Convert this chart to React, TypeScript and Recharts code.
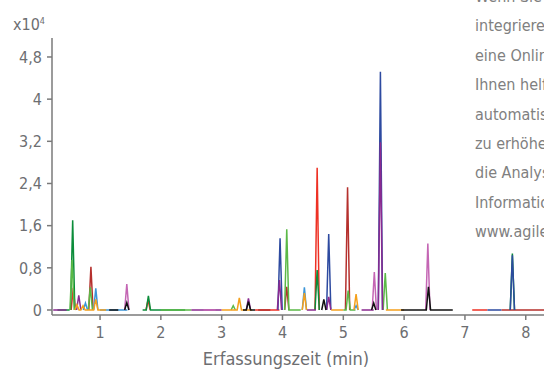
import { LineChart, Line, XAxis, YAxis } from "recharts";

// peak apex [time (min), height (x10^4)] and baseline spans [from, to] per trace
const navyPeaks = [[3.96, 1.36], [4.76, 1.44], [5.61, 4.52], [7.78, 1.04]];
const navySpans = [[7.37, 7.6]];
const purplePeaks = [[0.65, 0.28], [3.44, 0.22], [3.95, 0.57], [4.76, 0.25], [5.61, 3.18]];
const purpleSpans = [[0.23, 0.45], [2.5, 3.0], [4.4, 4.55], [5.3, 5.5]];
const lightGreenPeaks = [[0.54, 0.95], [0.84, 0.43], [3.19, 0.08], [4.07, 1.53], [5.08, 0.37], [5.69, 0.7]];
const lightGreenSpans = [[2.0, 2.5], [4.1, 4.3], [5.0, 5.2]];
const darkGreenPeaks = [[0.55, 1.7], [1.795, 0.27], [4.57, 0.76], [7.78, 1.07]];
const darkGreenSpans = [[0.3, 0.5], [1.7, 2.4]];
const redPeaks = [[0.56, 0.42], [1.79, 0.19], [4.57, 2.7]];
const redSpans = [[3.55, 3.95], [7.12, 7.37]];
const darkRedPeaks = [[0.85, 0.82], [4.07, 0.44], [5.07, 2.33]];
const darkRedSpans = [[3.6, 3.8], [7.6, 8.3]];
const lightBluePeaks = [[0.76, 0.13], [0.93, 0.41], [4.36, 0.43], [5.21, 0.08]];
const lightBlueSpans = [[1.0, 1.45]];
const orangePeaks = [[0.62, 0.1], [0.72, 0.08], [0.93, 0.2], [3.29, 0.23], [4.36, 0.32], [5.21, 0.3]];
const orangeSpans = [[0.6, 1.1], [3.0, 3.5], [4.8, 5.0], [5.7, 6.0]];
const magentaPeaks = [[1.44, 0.49], [5.51, 0.72], [6.39, 1.26]];
const magentaSpans = [[2.7, 2.9]];
const blackPeaks = [[1.44, 0.14], [3.44, 0.16], [4.68, 0.2], [5.5, 0.13], [6.4, 0.44]];
const blackSpans = [[1.15, 1.3], [3.35, 3.55], [5.95, 6.8]];

const xTicks = [1, 2, 3, 4, 5, 6, 7, 8];
const yTicks = [0, 0.8, 1.6, 2.4, 3.2, 4, 4.8];

const textLines = [
  "Wenn Sie Ihre Systeme",
  "integrieren möchten,",
  "eine Online-Lösung",
  "Ihnen helfen kann,",
  "automatisch",
  "zu erhöhen,",
  "die Analyse",
  "Informationen unter",
  "www.agilent.com",
];

const HALF = 0.035;
const FONT = "'Liberation Sans Narrow', 'DejaVu Sans Condensed', sans-serif";

type Pt = { t: number; v: number | null };

function build(peaks: number[][], spans: number[][]): Pt[] {
  const segs: { a: number; b: number; p: number[][] }[] = spans.map(([a, b]) => ({ a, b, p: [] }));
  for (const pk of peaks) {
    const s = segs.find((g) => pk[0] >= g.a - HALF && pk[0] <= g.b + HALF);
    if (s) {
      s.p.push(pk);
      s.a = Math.min(s.a, pk[0] - HALF);
      s.b = Math.max(s.b, pk[0] + HALF);
    } else segs.push({ a: pk[0] - HALF, b: pk[0] + HALF, p: [pk] });
  }
  segs.sort((x, y) => x.a - y.a);
  const out: Pt[] = [];
  segs.forEach((s, i) => {
    if (i > 0) out.push({ t: (segs[i - 1].b + s.a) / 2, v: null });
    out.push({ t: s.a, v: 0 });
    s.p.sort((x, y) => x[0] - y[0]).forEach(([t, h]) => {
      out.push({ t: t - HALF, v: 0 }, { t, v: h }, { t: t + HALF, v: 0 });
    });
    out.push({ t: s.b, v: 0 });
  });
  return out.filter((p, i, arr) => i === 0 || p.t >= arr[i - 1].t);
}

const series = [
  { name: "red", color: "#ee3124", data: build(redPeaks, redSpans) },
  { name: "darkRed", color: "#b5302d", data: build(darkRedPeaks, darkRedSpans) },
  { name: "darkGreen", color: "#0b8c3a", data: build(darkGreenPeaks, darkGreenSpans) },
  { name: "navy", color: "#2d4aa0", data: build(navyPeaks, navySpans) },
  { name: "lightGreen", color: "#5bb947", data: build(lightGreenPeaks, lightGreenSpans) },
  { name: "purple", color: "#8a2a90", data: build(purplePeaks, purpleSpans) },
  { name: "lightBlue", color: "#3b95d8", data: build(lightBluePeaks, lightBlueSpans) },
  { name: "orange", color: "#f5a01c", data: build(orangePeaks, orangeSpans) },
  { name: "magenta", color: "#c466b4", data: build(magentaPeaks, magentaSpans) },
  { name: "black", color: "#111111", data: build(blackPeaks, blackSpans) },
];

const fmt = (v: number) => String(v).replace(".", ",");

export default function App() {
  return (
    <div style={{ position: "absolute", left: 0, top: 0, width: 544, height: 371, overflow: "hidden", background: "#fff", fontFamily: FONT }}>
      <LineChart width={544} height={371} margin={{ top: 38, right: 0, bottom: 0, left: 0 }}>
        <XAxis
          type="number"
          dataKey="t"
          domain={[0.21, 8.3]}
          ticks={xTicks}
          allowDataOverflow
          height={56}
          tickSize={5}
          tickMargin={7}
          stroke="#7a7a7a"
          strokeWidth={1.5}
          tick={{ fill: "#6d6e71", fontSize: 16, fontFamily: FONT }}
          label={{ value: "Erfassungszeit (min)", position: "insideBottom", offset: 6, dx: -12, fill: "#6d6e71", fontSize: 18, fontFamily: FONT }}
        />
        <YAxis
          type="number"
          domain={[-0.095, 5.16]}
          ticks={yTicks}
          allowDataOverflow
          width={52}
          tickSize={5}
          tickMargin={5}
          stroke="#7a7a7a"
          strokeWidth={1.5}
          tickFormatter={fmt}
          tick={{ fill: "#6d6e71", fontSize: 16, fontFamily: FONT }}
        />
        {series.map((s) => (
          <Line
            key={s.name}
            data={s.data}
            dataKey="v"
            type="linear"
            stroke={s.color}
            strokeWidth={1.5}
            dot={false}
            connectNulls={false}
            isAnimationActive={false}
          />
        ))}
      </LineChart>
      <div style={{ position: "absolute", left: 13, top: 15, fontSize: 16, color: "#6d6e71" }}>
        x10<sup style={{ fontSize: 9, verticalAlign: 6 }}>4</sup>
      </div>
      <div style={{ position: "absolute", left: 475, top: -18, fontSize: 16, lineHeight: "29.4px", color: "#808080", whiteSpace: "nowrap" }}>
        {textLines.map((l) => (
          <div key={l}>{l}</div>
        ))}
      </div>
    </div>
  );
}
